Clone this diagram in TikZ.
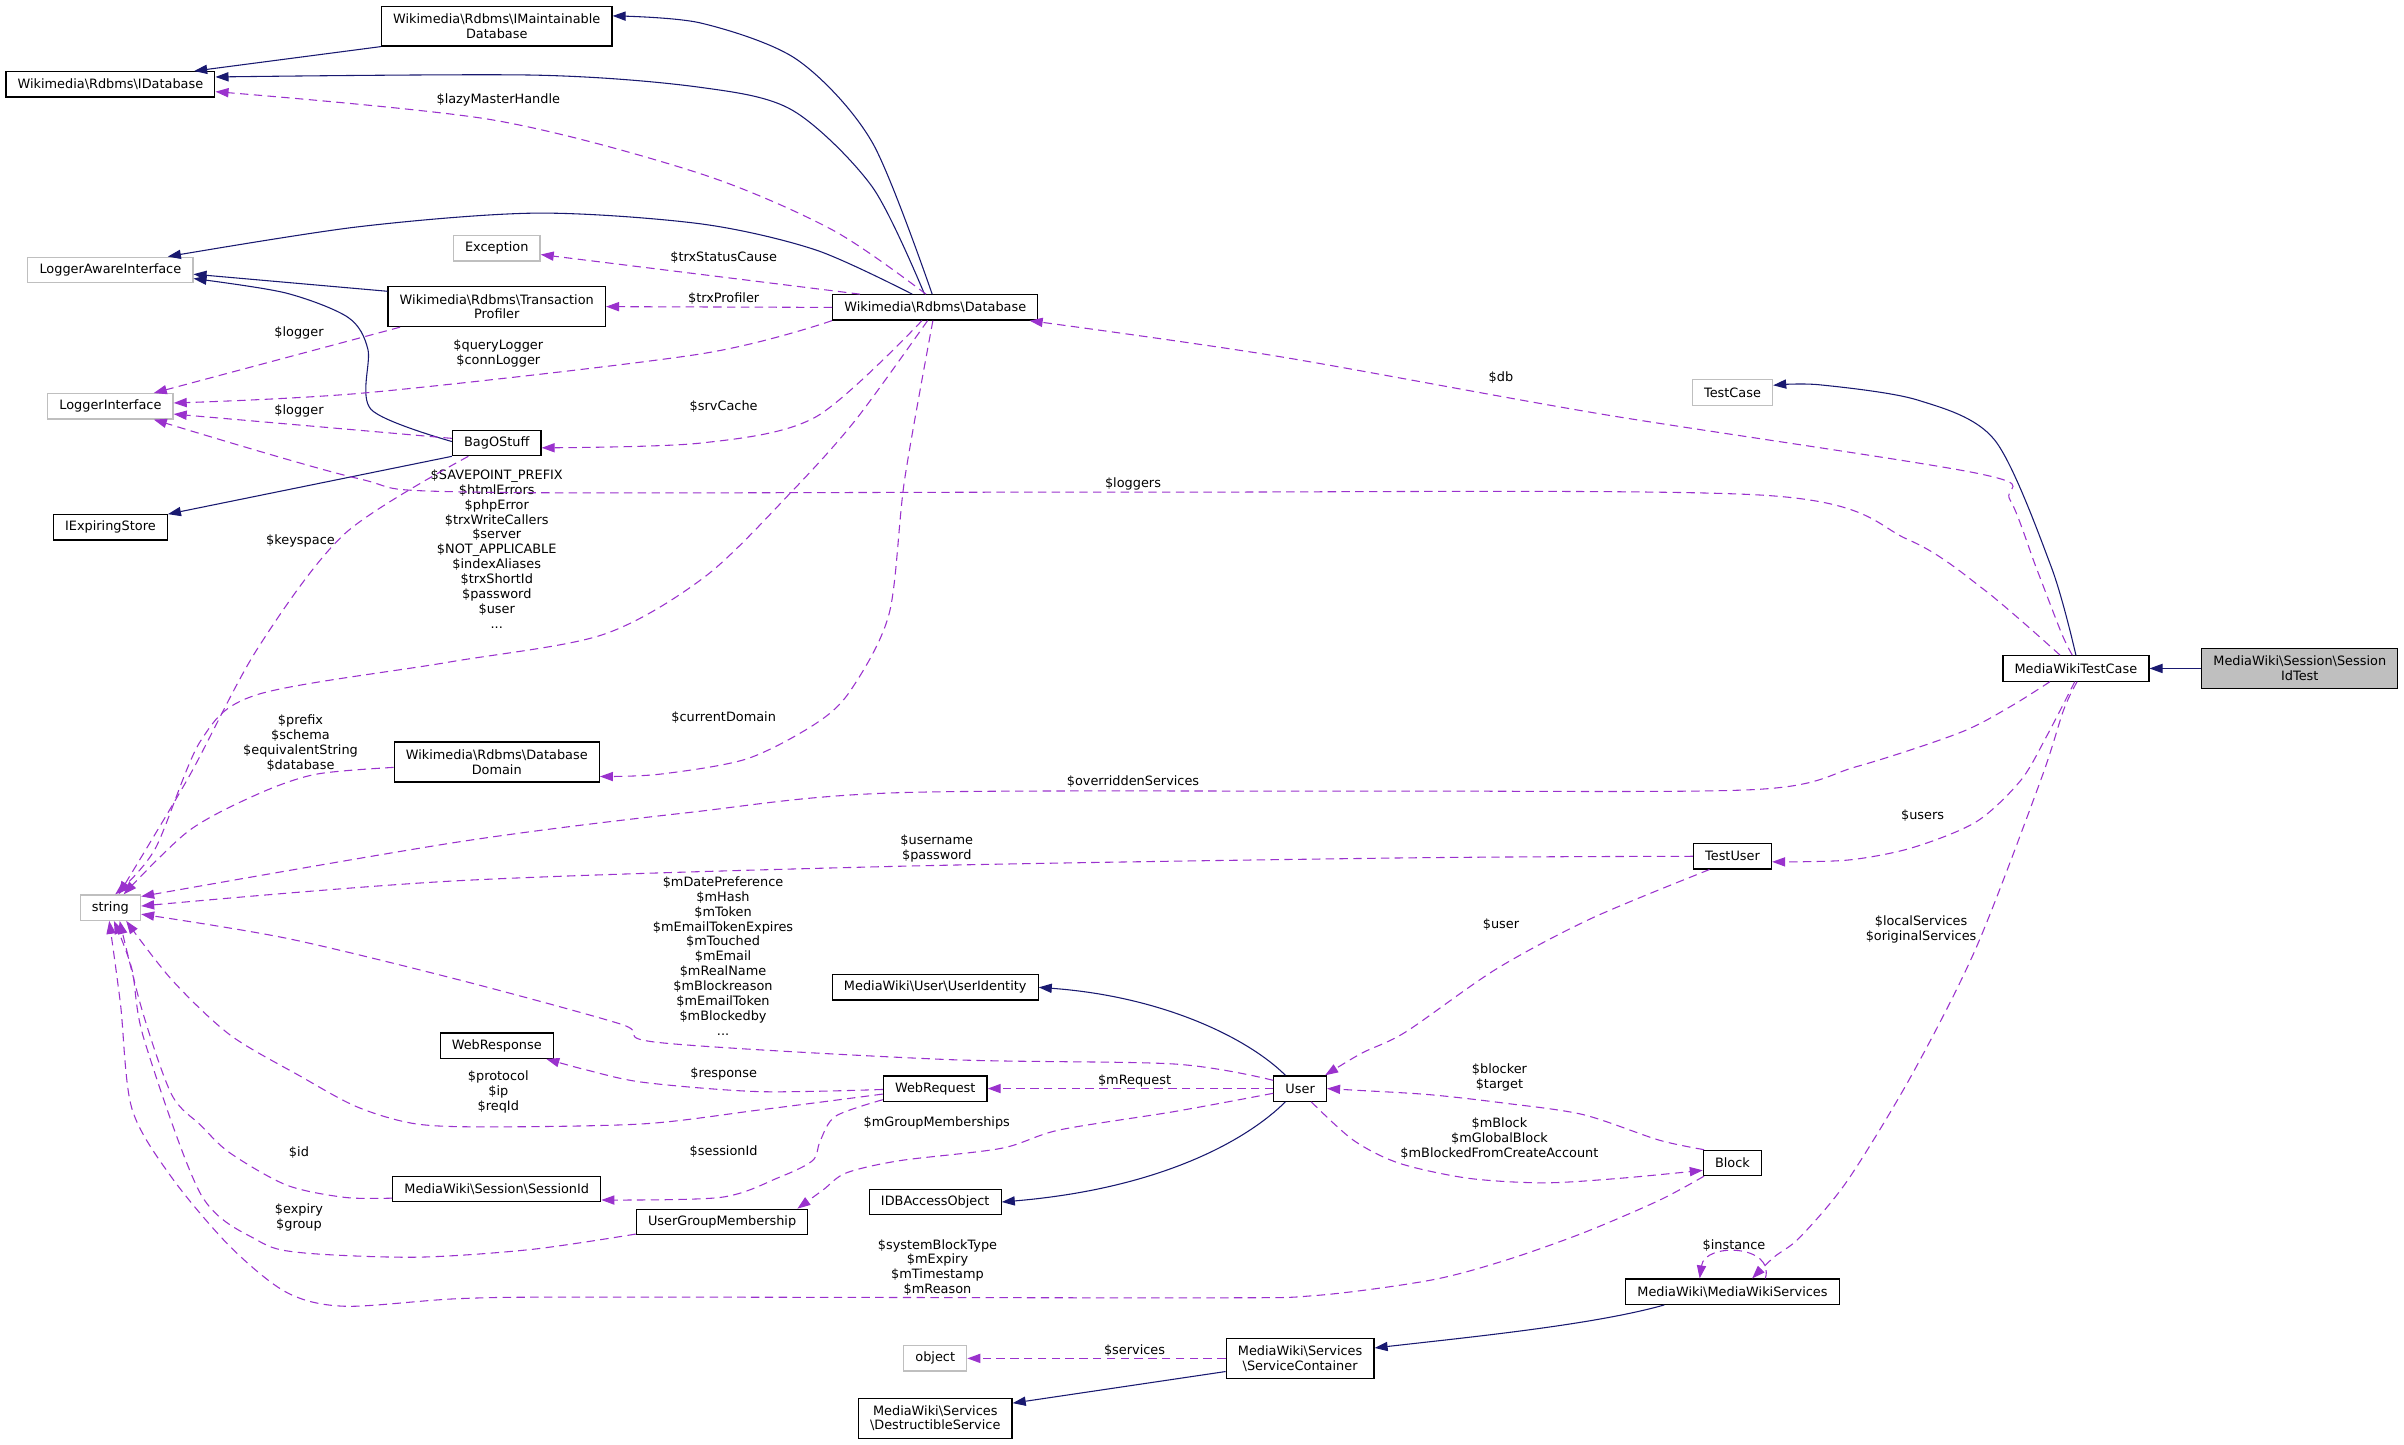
\documentclass[tikz,border=0pt]{standalone}
\usepackage{fontspec}
\setmainfont{DejaVu Sans}
\usetikzlibrary{arrows.meta}

\definecolor{azulnoche}{RGB}{25,25,112}
\definecolor{orquidea}{RGB}{154,50,205}
\definecolor{grisborde}{RGB}{191,191,191}

\newcommand{\barra}{\textbackslash}

\begin{document}
\begin{tikzpicture}[x=1pt, y=-1pt,
    font=\fontsize{8.4}{9.7}\selectfont,
    clase/.style={draw=black, line width=0.8pt, fill=white, align=center,
        inner xsep=7.6pt, inner ysep=2pt, minimum height=16.5pt},
    doble/.style={minimum height=26pt},
    externa/.style={clase, draw=grisborde},
    actual/.style={clase, fill=grisborde},
    herencia/.style={draw=azulnoche, line width=0.7pt,
        -{Triangle[length=8.5pt,width=6pt]}},
    miembro/.style={draw=orquidea, line width=0.7pt,
        dash pattern=on 5.5pt off 3.5pt, -{Triangle[length=8.5pt,width=6pt]}},
    etiqueta/.style={align=center, inner sep=0pt}]

    \useasboundingbox (0,0) rectangle (1568,942);

    % Clases (columna izquierda)
    \node[clase] (idb) at (72,55) {Wikimedia\barra Rdbms\barra IDatabase};
    \node[externa] (lai) at (72,176) {LoggerAwareInterface};
    \node[externa] (li) at (72,265) {LoggerInterface};
    \node[clase] (ies) at (72,344) {IExpiringStore};
    \node[externa] (str) at (72,592) {string};

    % Clases (segunda columna)
    \node[clase, doble] (imaint) at (324,17) {Wikimedia\barra Rdbms\barra IMaintainable\\Database};
    \node[externa] (exc) at (324,162) {Exception};
    \node[clase, doble] (tp) at (324,200) {Wikimedia\barra Rdbms\barra Transaction\\Profiler};
    \node[clase] (bag) at (324,289) {BagOStuff};
    \node[clase, doble] (dd) at (324,497) {Wikimedia\barra Rdbms\barra Database\\Domain};
    \node[clase] (wresp) at (324,682) {WebResponse};
    \node[clase] (sid) at (324,775.5) {MediaWiki\barra Session\barra SessionId};
    \node[clase] (ugm) at (471,797) {UserGroupMembership};

    % Clases (columna central)
    \node[clase] (db) at (610,200.5) {Wikimedia\barra Rdbms\barra Database};
    \node[clase] (uid) at (610,644) {MediaWiki\barra User\barra UserIdentity};
    \node[clase] (wreq) at (610,710) {WebRequest};
    \node[clase] (idbao) at (610,784) {IDBAccessObject};
    \node[externa] (obj) at (610,886) {object};
    \node[clase, doble] (ds) at (610,925) {MediaWiki\barra Services\\\barra DestructibleService};
    \node[clase] (user) at (848,710) {User};
    \node[clase, doble] (sc) at (848,886) {MediaWiki\barra Services\\\barra ServiceContainer};

    % Clases (columna derecha)
    \node[externa] (tc) at (1130,256) {TestCase};
    \node[clase] (tuser) at (1130,558.5) {TestUser};
    \node[clase] (block) at (1130,758.5) {Block};
    \node[clase] (mws) at (1130,842.5) {MediaWiki\barra MediaWikiServices};
    \node[clase] (mwtc) at (1354,436) {MediaWikiTestCase};
    \node[actual, doble] (sit) at (1500,436) {MediaWiki\barra Session\barra Session\\IdTest};

    % Herencia
    \draw[herencia] (imaint.south west) -- (idb.9);
    \draw[herencia] plot[smooth] coordinates {(db.103) (569,93) (520,39) (457,15) (imaint.5)};
    \draw[herencia] plot[smooth] coordinates {(db.129) (569,122) (517,72) (457,57) (349,49) (idb.4)};
    \draw[herencia] plot[smooth] coordinates {(db.150) (532,163) (457,146) (350,139) (233,148) (lai.13)};
    \draw[herencia] (tp.172) -- (lai.-3);
    \draw[herencia] plot[smooth] coordinates {(bag.178) (242,267) (240,228) (227,207) (186,191) (lai.-6)};
    \draw[herencia] (bag.south west) -- (ies.north east);
    \draw[herencia] plot[smooth] coordinates {(mwtc.north) (1338,370) (1301,287) (1251,261) (1187,251) (tc.10)};
    \draw[herencia] (sit.west) -- (mwtc.east);
    \draw[herencia] (user.138) .. controls (815,678) and (760,650) .. (uid.east);
    \draw[herencia] (user.-138) .. controls (815,742) and (760,775) .. (idbao.east);
    \draw[herencia] (mws.191) .. controls (1040,864) and (960,872) .. (sc.8);
    \draw[herencia] (sc.-170) -- (ds.11);

    % Miembros de Database
    \draw[miembro] plot[smooth] coordinates {(db.125) (543,150) (456,113) (320,78) (idb.-4)};
    \node[etiqueta] (lblLazy) at (325,65) {\$lazyMasterHandle};
    \draw[miembro] (db.170) -- (exc.-8);
    \node[etiqueta] (lblStatus) at (472,168) {\$trxStatusCause};
    \draw[miembro] (db.west) -- (tp.east);
    \node[etiqueta] (lblProf) at (472,195) {\$trxProfiler};
    \draw[miembro] plot[smooth] coordinates {(db.south west) (456,231) (241,256) (li.3)};
    \node[etiqueta] (lblQuery) at (325,230.5) {\$queryLogger\\\$connLogger};
    \draw[miembro] plot[smooth] coordinates {(db.225) (532,272) (457,289) (bag.-6)};
    \node[etiqueta] (lblSrv) at (472,265) {\$srvCache};
    \draw[miembro] plot[smooth] coordinates {(db.240) (558,274) (517,320) (460,376) (393,414) (292,432) (168,453) (131,483) (101,554) (str.70)};
    \node[etiqueta] (lblSave) at (324,358) {\$SAVEPOINT\_PREFIX\\\$htmlErrors\\\$phpError\\\$trxWriteCallers\\\$server\\\$NOT\_APPLICABLE\\\$indexAliases\\\$trxShortId\\\$password\\\$user\\...};
    \draw[miembro] plot[smooth] coordinates {(db.260) (590,313) (580,400) (555,450) (532,472) (487,495) (430,505) (dd.-8)};
    \node[etiqueta] (lblDom) at (472,468) {\$currentDomain};

    % Loggers y cache
    \draw[miembro] (tp.192) -- (li.17);
    \node[etiqueta] (lblLogTP) at (195,217) {\$logger};
    \draw[miembro] (bag.174) -- (li.-7);
    \node[etiqueta] (lblLogBag) at (195,268) {\$logger};
    \draw[miembro] plot[smooth] coordinates {(bag.205) (225,348) (168,423) (123,507) (str.58)};
    \node[etiqueta] (lblKey) at (196,353) {\$keyspace};
    \draw[miembro] plot[smooth] coordinates {(dd.183) (206,505) (168,518) (123,542) (str.45)};
    \node[etiqueta] (lblPrefix) at (196,484.5) {\$prefix\\\$schema\\\$equivalentString\\\$database};

    % Miembros de MediaWikiTestCase
    \draw[miembro] plot[smooth] coordinates {(mwtc.105) (1344.6,413) (1328,370) (1311,326) (1291,309) (1044,270) (831,232) (db.-8)};
    \node[etiqueta] (lblDb) at (979,246) {\$db};
    \draw[miembro] plot[smooth] coordinates {(mwtc.140) (1294.6,385) (1244.6,352) (1150,323) (740,321) (310,321) (233,312) (li.-17)};
    \node[etiqueta] (lblLoggers) at (739,315.5) {\$loggers};
    \draw[miembro] plot[smooth] coordinates {(mwtc.207) (1311,461) (1278,478) (1211,500) (1144,515) (900,516) (587,517) (449,530) (300,549) (str.20)};
    \node[etiqueta] (lblOver) at (739,510) {\$overriddenServices};
    \draw[miembro] plot[smooth] coordinates {(mwtc.-95) (1335,480) (1318,509) (1289,536) (1247,553) (1205,561) (tuser.-8)};
    \node[etiqueta] (lblUsers) at (1254,532) {\$users};
    \draw[miembro] plot[smooth] coordinates {(mwtc.-85) (1346,463) (1331,509) (1289,618) (1247,701) (1205,770) (1174,807) (1157,820) (mws.34)};
    \node[etiqueta] (lblLocal) at (1253,606) {\$localServices\\\$originalServices};

    % TestUser
    \draw[miembro] plot[smooth] coordinates {(tuser.west) (913,559.6) (587,565) (299.5,574.4) (str.3)};
    \node[etiqueta] (lblUname) at (611,553.5) {\$username\\\$password};
    \draw[miembro] plot[smooth] coordinates {(tuser.210) (1038,599) (976,632) (917,673) (888,687) (user.28)};
    \node[etiqueta] (lblUser) at (979,603) {\$user};

    % Miembros de User
    \draw[miembro] plot[smooth] coordinates {(user.163) (766,694) (616,691) (430,680) (405,668) (299,639) (187,612) (str.-12)};
    \node[etiqueta] (lblMDate) at (471.6,623.5) {\$mDatePreference\\\$mHash\\\$mToken\\\$mEmailTokenExpires\\\$mTouched\\\$mEmail\\\$mRealName\\\$mBlockreason\\\$mEmailToken\\\$mBlockedby\\...};
    \draw[miembro] (user.west) -- (wreq.east);
    \node[etiqueta] (lblMReq) at (740,705) {\$mRequest};
    \draw[miembro] plot[smooth] coordinates {(user.190) (766,725) (691,737) (653,749) (587,757) (552,765) (537,776) (ugm.10)};
    \node[etiqueta] (lblGroup) at (611,732.5) {\$mGroupMemberships};
    \draw[miembro] plot[smooth] coordinates {(user.-50) (882.6,743.6) (912.6,758.7) (957.6,768.5) (1007,771.5) (1057,768.5) (block.194)};
    \node[etiqueta] (lblMBlock) at (978,742.5) {\$mBlock\\\$mGlobalBlock\\\$mBlockedFromCreateAccount};

    % Block
    \draw[miembro] plot[smooth] coordinates {(block.155) (1082,743.6) (1032.6,727) (982,719.6) (932.6,714) (882.6,711) (user.east)};
    \node[etiqueta] (lblBlocker) at (978,703) {\$blocker\\\$target};
    \draw[miembro] plot[smooth] coordinates {(block.205) (1082,783) (1033,804) (982,822) (933,835) (858,845) (783,846.5) (391,846) (300,847) (225,852) (187,843) (150,813) (112,768) (86,723) (78.6,655) (str.-95)};
    \node[etiqueta] (lblSys) at (611.5,826.7) {\$systemBlockType\\\$mExpiry\\\$mTimestamp\\\$mReason};

    % WebRequest y sesiones
    \draw[miembro] plot[smooth] coordinates {(wreq.181) (495,712) (420,706) (383,698) (wresp.-15)};
    \node[etiqueta] (lblResp) at (472,700.5) {\$response};
    \draw[miembro] plot[smooth] coordinates {(wreq.186) (495,724) (420,733) (320,735) (271,733) (233,722) (196,702) (150,675) (112,639) (str.-40)};
    \node[etiqueta] (lblProto) at (325,712) {\$protocol\\\$ip\\\$reqId};
    \draw[miembro] plot[smooth] coordinates {(wreq.192) (545,728) (535,744) (530,757) (508,768) (470,781) (sid.-6)};
    \node[etiqueta] (lblSess) at (472,751) {\$sessionId};
    \draw[miembro] plot[smooth] coordinates {(sid.185) (225,781) (187,773) (150,752) (131,734) (112,714) (93,660) (str.-55)};
    \node[etiqueta] (lblId) at (195,752) {\$id};
    \draw[miembro] plot[smooth] coordinates {(ugm.188) (346,815) (271,820) (196,817) (168,809) (131,779) (94,678) (86,632) (str.-75)};
    \node[etiqueta] (lblExpiry) at (195,794) {\$expiry\\\$group};

    % Servicios
    \draw[miembro] (mws.22) .. controls (1158,812) and (1112,810) .. (mws.158);
    \node[etiqueta] (lblInst) at (1131,812.5) {\$instance};
    \draw[miembro] (sc.west) -- (obj.east);
    \node[etiqueta] (lblServ) at (740,881) {\$services};
\end{tikzpicture}
\end{document}
